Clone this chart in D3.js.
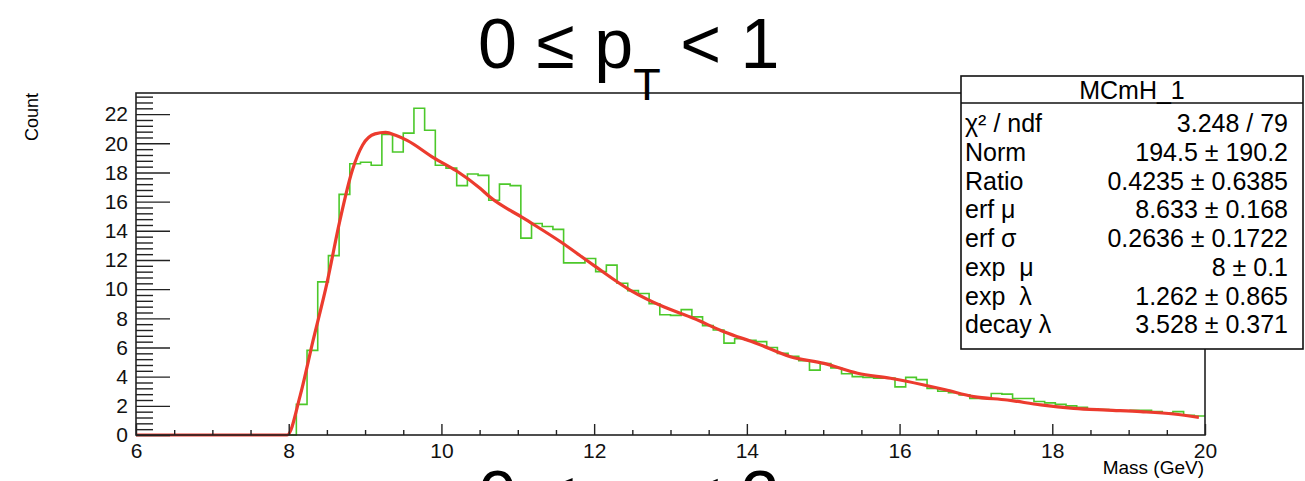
<!DOCTYPE html>
<html>
<head>
<meta charset="utf-8">
<script src="https://cdn.jsdelivr.net/npm/d3@7"></script>
<style>
  body { margin: 0; background: #fff; }
  svg { display: block; font-family: "Liberation Sans", Arial, sans-serif; }
</style>
</head>
<body>
<div id="main"></div>
<script>
// histogram: 100 bins of 0.14 GeV from 6 to 20
const binStart = 6;
const binWidth = 0.14;
const binCounts = [
  0, 0, 0, 0, 0, 0, 0, 0, 0, 0, 0, 0, 0, 0, 0,
  2.1, 5.8, 10.5, 12.3, 16.5, 18.6, 18.7, 18.5, 20.6, 19.4,
  20.7, 22.4, 20.9, 18.5, 18.3, 17.1, 17.9, 17.8, 16.1, 17.2,
  17.1, 13.5, 14.5, 14.3, 14.1, 11.8, 11.8, 12.1, 11.2, 11.65,
  10.4, 9.9, 9.7, 9.0, 8.25, 8.2, 8.6, 8.1, 7.5, 7.2,
  6.3, 6.6, 6.5, 6.4, 6.0, 5.6, 5.4, 5.1, 4.45, 4.9,
  4.6, 4.2, 4.0, 3.95, 3.9, 3.9, 3.3, 3.95, 3.8, 3.2,
  3.0, 2.9, 2.75, 2.5, 2.5, 2.85, 2.8, 2.5, 2.5, 2.3,
  2.2, 2.1, 2.0, 1.9, 1.8, 1.75, 1.7, 1.65, 1.7, 1.7,
  1.6, 1.5, 1.6, 1.35, 1.3
];

// fit curve
const fitMass = [6, 7.98, 8.15, 8.32, 8.5, 8.67, 8.83, 8.97, 9.13, 9.27, 9.4, 9.55, 9.9, 10.2,
  10.51, 10.64, 11.08, 11.56, 11.99, 12.47, 12.91, 13.3, 13.7, 14.13, 14.57, 15.01, 15.45,
  15.88, 16.32, 16.6, 16.97, 17.41, 17.85, 18.28, 18.72, 19.16, 19.59, 19.92];
const fitCount = [0, 0, 2.7, 6.5, 10.4, 14.7, 18.1, 19.9, 20.65, 20.75, 20.55, 20.2, 19.0, 18.1,
  16.9, 16.3, 14.85, 13.25, 11.65, 9.94, 8.79, 8.0, 7.08, 6.28, 5.37, 4.91, 4.23,
  3.89, 3.43, 3.1, 2.63, 2.4, 2.06, 1.83, 1.71, 1.6, 1.44, 1.21];

const xTicks = [6, 8, 10, 12, 14, 16, 18, 20];
const yTicks = [0, 2, 4, 6, 8, 10, 12, 14, 16, 18, 20, 22];

const statTitle = 'MCmH_1';
const statLabels = ['χ² / ndf', 'Norm', 'Ratio', 'erf μ', 'erf σ', 'exp  μ', 'exp  λ', 'decay λ'];
const statValues = ['3.248 / 79', '194.5 ± 190.2', '0.4235 ± 0.6385', '8.633 ± 0.168',
  '0.2636 ± 0.1722', '8 ± 0.1', '1.262 ± 0.865', '3.528 ± 0.371'];

const w = 1305;
const h = 481;

const xScale = d3.scaleLinear().domain([6, 20]).range([136, 1205]);
const yScale = d3.scaleLinear().domain([0, 23.45]).range([435, 93]);

const svg = d3.select('#main').append('svg')
  .attr('width', w)
  .attr('height', h);

// histogram outline
const edges = binCounts.map((c, i) => ({ x: binStart + i * binWidth, y: c }));
edges.push({ x: 20, y: binCounts[binCounts.length - 1] });

const histLine = d3.line()
  .x(d => xScale(d.x))
  .y(d => yScale(d.y))
  .curve(d3.curveStepAfter);

svg.append('path')
  .datum(edges)
  .attr('fill', 'none')
  .attr('stroke', '#4cc82a')
  .attr('stroke-width', 1.6)
  .attr('d', histLine);

// fit
const fitLine = d3.line()
  .x(d => xScale(d[0]))
  .y(d => yScale(d[1]))
  .curve(d3.curveMonotoneX);

svg.append('path')
  .datum(fitMass.map((m, i) => [m, fitCount[i]]))
  .attr('fill', 'none')
  .attr('stroke', '#ec3b2e')
  .attr('stroke-width', 3.2)
  .attr('stroke-linejoin', 'round')
  .attr('d', fitLine);

// frame
svg.append('rect')
  .attr('x', xScale(6))
  .attr('y', yScale(23.45))
  .attr('width', xScale(20) - xScale(6))
  .attr('height', yScale(0) - yScale(23.45))
  .attr('fill', 'none')
  .attr('stroke', '#222')
  .attr('stroke-width', 1.6);

// axes
const xAxis = d3.axisBottom(xScale).tickValues(xTicks).tickSize(-11).tickPadding(8).tickFormat(d3.format('d'));
const xMinor = d3.axisBottom(xScale).tickValues(d3.range(6, 20.01, 0.5).filter(v => v % 2 !== 0)).tickSize(-5).tickFormat('');
const yAxis = d3.axisLeft(yScale).tickValues(yTicks).tickSize(-34).tickPadding(8).tickFormat(d3.format('d'));
const yMinor = d3.axisLeft(yScale).tickValues(d3.range(0, 23.4, 0.4).filter(v => Math.abs(v / 2 - Math.round(v / 2)) > 0.01)).tickSize(-17).tickFormat('');

function styleAxis(g) {
  g.select('.domain').remove();
  g.selectAll('line').attr('stroke', '#222').attr('stroke-width', 1.4);
  g.selectAll('text').attr('fill', '#111').attr('font-size', 21).attr('font-family', '"Liberation Sans", Arial, sans-serif');
}

svg.append('g').attr('transform', 'translate(0,' + yScale(0) + ')').call(xAxis).call(styleAxis);
svg.append('g').attr('transform', 'translate(0,' + yScale(0) + ')').call(xMinor).call(styleAxis);
svg.append('g').attr('transform', 'translate(' + xScale(6) + ',0)').call(yAxis).call(styleAxis);
svg.append('g').attr('transform', 'translate(' + xScale(6) + ',0)').call(yMinor).call(styleAxis);

// axis titles
svg.append('text')
  .attr('transform', 'translate(38,93) rotate(-90)')
  .attr('text-anchor', 'end')
  .attr('font-size', 18)
  .text('Count');

svg.append('text')
  .attr('x', 1204)
  .attr('y', 474)
  .attr('text-anchor', 'end')
  .attr('font-size', 19)
  .text('Mass (GeV)');

// stats box
const box = svg.append('g');
box.append('rect')
  .attr('x', 961).attr('y', 76)
  .attr('width', 342).attr('height', 273)
  .attr('fill', '#fff')
  .attr('stroke', '#111')
  .attr('stroke-width', 1.6);
box.append('line')
  .attr('x1', 961).attr('x2', 1303)
  .attr('y1', 103).attr('y2', 103)
  .attr('stroke', '#111')
  .attr('stroke-width', 1.4);
box.append('text')
  .attr('x', 1132).attr('y', 99)
  .attr('text-anchor', 'middle')
  .attr('font-size', 25)
  .text(statTitle);

box.selectAll('.lab')
  .data(statLabels)
  .enter()
  .append('text')
  .attr('class', 'lab')
  .attr('x', 965)
  .attr('y', (d, i) => 132 + i * 28.75)
  .attr('font-size', 25)
  .attr('xml:space', 'preserve')
  .style('white-space', 'pre')
  .text(d => d);

box.selectAll('.val')
  .data(statValues)
  .enter()
  .append('text')
  .attr('class', 'val')
  .attr('x', 1288)
  .attr('y', (d, i) => 132 + i * 28.75)
  .attr('text-anchor', 'end')
  .attr('font-size', 25)
  .text(d => d);

// titles
function title(y, upper) {
  const t = svg.append('text')
    .attr('x', 478)
    .attr('y', y)
    .attr('font-size', 70)
    .attr('fill', '#000');
  t.append('tspan').text('0 ≤ p');
  t.append('tspan').attr('font-size', 45).attr('dy', 32).text('T');
  t.append('tspan').attr('dy', -32).text(' < ' + upper);
}
title(68, '1');
title(520, '2');
</script>
</body>
</html>
